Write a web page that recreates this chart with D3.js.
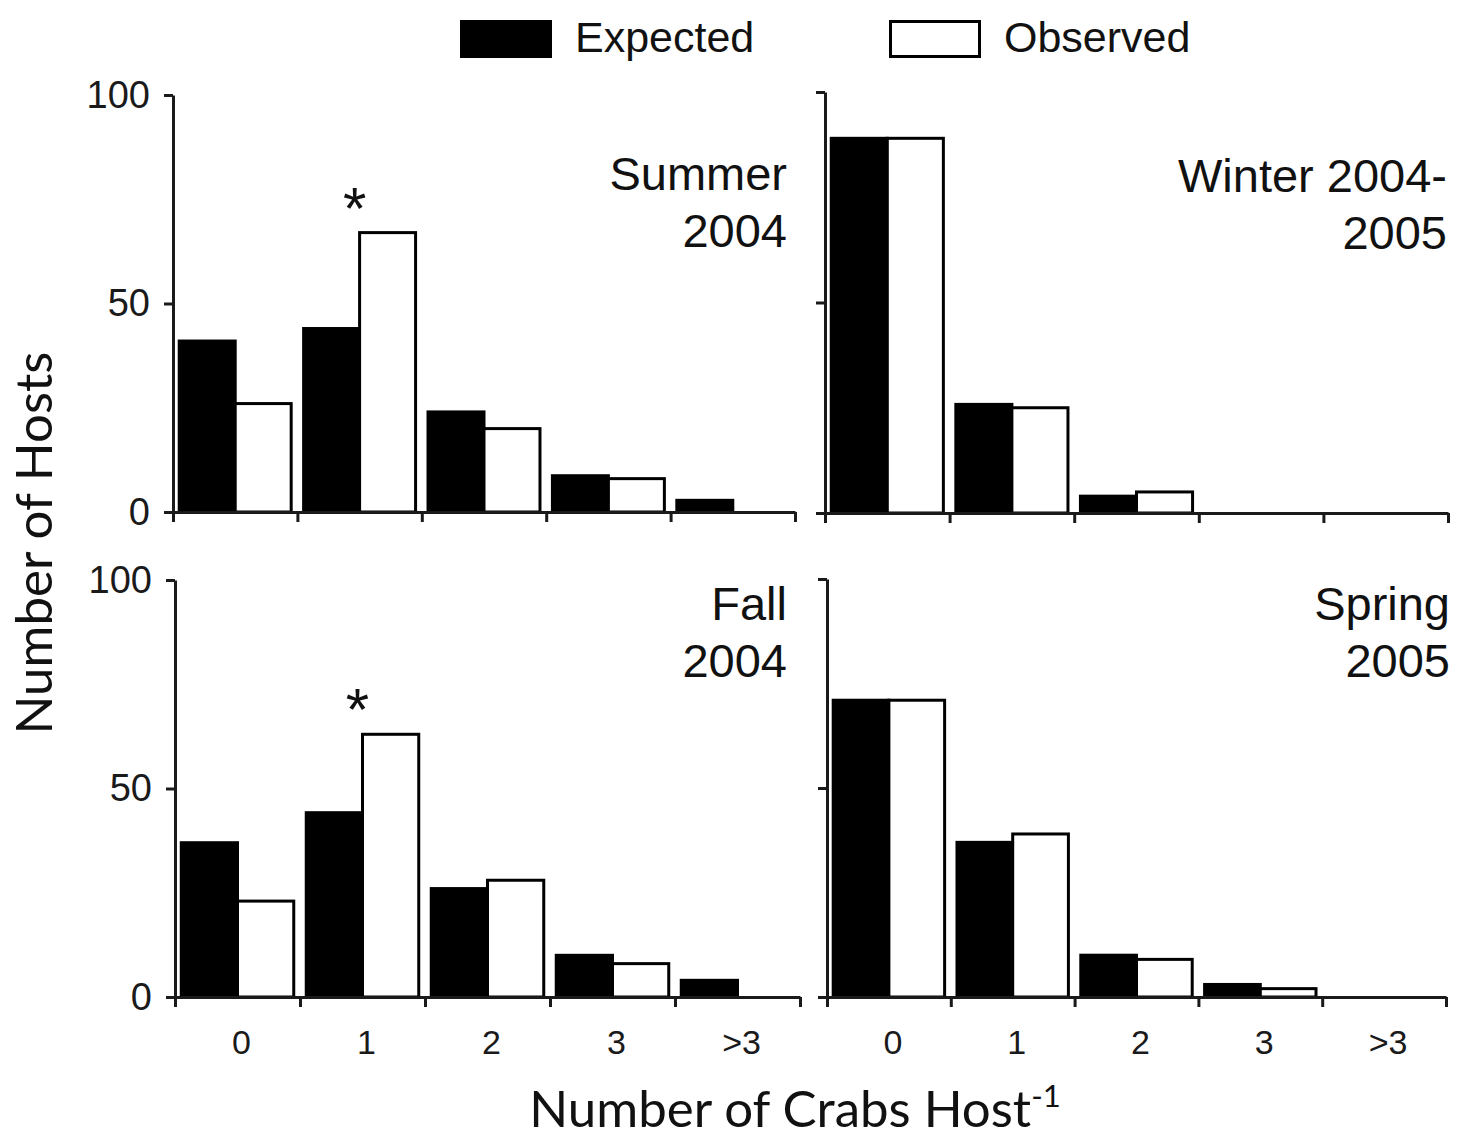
<!DOCTYPE html>
<meta charset="utf-8">
<style>
body { margin: 0; background: #fff; }
.axis path, .axis line { stroke: #1a1a1a; stroke-width: 3; }
.axis text { font-family: "Liberation Sans", Arial, sans-serif; fill: #1a1a1a; }
.bar { stroke: #000; stroke-width: 3; }
.title { font-family: "Liberation Sans", Arial, sans-serif; font-size: 47px; fill: #111; }
.legend text { font-family: "Liberation Sans", Arial, sans-serif; font-size: 43px; fill: #111; }
.axis-title { font-family: Lato, "Open Sans", sans-serif; font-size: 51px; fill: #111; }
</style>
<svg width="1468" height="1139"></svg>
<script src="https://d3js.org/d3.v7.min.js"></script>
<script>

var categories = ["0", "1", "2", "3", ">3"];
var seriesNames = ["Expected", "Observed"];
var yTicks = [0, 50, 100];

var summerExpected = [41, 44, 24, 8.7, 2.8],
    summerObserved = [26, 67, 20, 8, 0];
var winterExpected = [89, 25.8, 4, 0, 0],
    winterObserved = [89, 25, 5, 0, 0];
var fallExpected = [37, 44.2, 26, 10, 4],
    fallObserved = [23, 63, 28, 8, 0];
var springExpected = [71, 37, 10, 3, 0],
    springObserved = [71, 39, 9, 2, 0];

var titles = [["Summer", "2004"], ["Winter 2004-", "2005"], ["Fall", "2004"], ["Spring", "2005"]];
var starred = [true, false, true, false];

var svg = d3.select("svg");

// panel frames: y-axis x, x-axis end, y of 100, y of 0
var panels = [
  {x0: 173, x1: 795, top: 95, bottom: 512, exp: summerExpected, obs: summerObserved, left: true, low: false, tx: 787, ty: 190},
  {x0: 825, x1: 1448, top: 92, bottom: 513, exp: winterExpected, obs: winterObserved, left: false, low: false, tx: 1447, ty: 192},
  {x0: 175, x1: 800, top: 580, bottom: 997, exp: fallExpected, obs: fallObserved, left: true, low: true, tx: 787, ty: 620},
  {x0: 827, x1: 1446, top: 579, bottom: 997, exp: springExpected, obs: springObserved, left: false, low: true, tx: 1450, ty: 620}
];

panels.forEach(function(p, i) {
  var g = svg.append("g");

  var x = d3.scaleBand().domain(categories).range([p.x0, p.x1])
      .paddingInner(0.1).paddingOuter(0.05);
  var xs = d3.scaleBand().domain(seriesNames).range([0, x.bandwidth()]);
  var edge = d3.scaleLinear().domain([0, categories.length]).range([p.x0, p.x1]);
  var y = d3.scaleLinear().domain([0, 100]).range([p.bottom, p.top]);

  var rows = categories.map(function(c, k) {
    return {cat: c, values: [{s: "Expected", v: p.exp[k]}, {s: "Observed", v: p.obs[k]}]};
  });

  g.selectAll(".grp")
    .data(rows)
    .enter().append("g")
      .attr("transform", function(d) { return "translate(" + x(d.cat) + ",0)"; })
    .selectAll("rect")
    .data(function(d) { return d.values.filter(function(e) { return e.v > 0; }); })
    .enter().append("rect")
      .attr("class", "bar")
      .attr("x", function(d) { return xs(d.s); })
      .attr("y", function(d) { return y(d.v); })
      .attr("width", xs.bandwidth())
      .attr("height", function(d) { return p.bottom - y(d.v); })
      .attr("fill", function(d) { return d.s == "Expected" ? "#000" : "#fff"; });

  // x axis: ticks on category edges
  g.append("g")
      .attr("class", "axis")
      .attr("transform", "translate(0," + p.bottom + ")")
      .call(d3.axisBottom(edge).tickValues(d3.range(categories.length + 1))
        .tickSize(10).tickSizeOuter(0).tickFormat(""));

  if (p.low) {
    var lab = g.append("g")
        .attr("class", "axis")
        .attr("transform", "translate(4," + p.bottom + ")")
        .call(d3.axisBottom(x).tickSize(0).tickPadding(33));
    lab.select(".domain").remove();
    lab.selectAll("text").style("font-size", "34px");
  }

  var ya = g.append("g")
      .attr("class", "axis")
      .attr("transform", "translate(" + p.x0 + ",0)")
      .call(d3.axisLeft(y).tickValues(yTicks).tickSize(9).tickSizeOuter(0).tickPadding(14)
        .tickFormat(p.left ? d3.format("d") : ""));
  ya.selectAll("text").style("font-size", "38px");

  var t = g.append("text")
      .attr("class", "title")
      .attr("text-anchor", "end")
      .attr("x", p.tx)
      .attr("y", p.ty);
  t.append("tspan").attr("x", p.tx).text(titles[i][0]);
  t.append("tspan").attr("x", p.tx).attr("dy", 57).text(titles[i][1]);

  if (starred[i]) {
    g.append("text")
        .attr("class", "title")
        .attr("text-anchor", "middle")
        .style("font-size", "60px")
        .attr("x", x("1") + x.bandwidth() / 2 - 5)
        .attr("y", y(p.obs[1]) - 4)
        .text("*");
  }
});

// legend
var legend = svg.append("g").attr("class", "legend");
var legendX = [460, 889];
seriesNames.forEach(function(s, k) {
  legend.append("rect")
      .attr("x", legendX[k] + 1.5)
      .attr("y", 21.5)
      .attr("width", 89)
      .attr("height", 35)
      .attr("fill", k == 0 ? "#000" : "#fff")
      .attr("stroke", "#000")
      .attr("stroke-width", 3);
  legend.append("text")
      .attr("x", legendX[k] + 115)
      .attr("y", 52)
      .text(s);
});

svg.append("text")
    .attr("class", "axis-title")
    .attr("text-anchor", "middle")
    .attr("transform", "translate(52,543) rotate(-90)")
    .text("Number of Hosts");

var xt = svg.append("text")
    .attr("class", "axis-title")
    .attr("text-anchor", "middle")
    .attr("x", 795)
    .attr("y", 1127);
xt.append("tspan").text("Number of Crabs Host");
xt.append("tspan").attr("dy", -20).style("font-size", "31px").text("-1");

</script>
